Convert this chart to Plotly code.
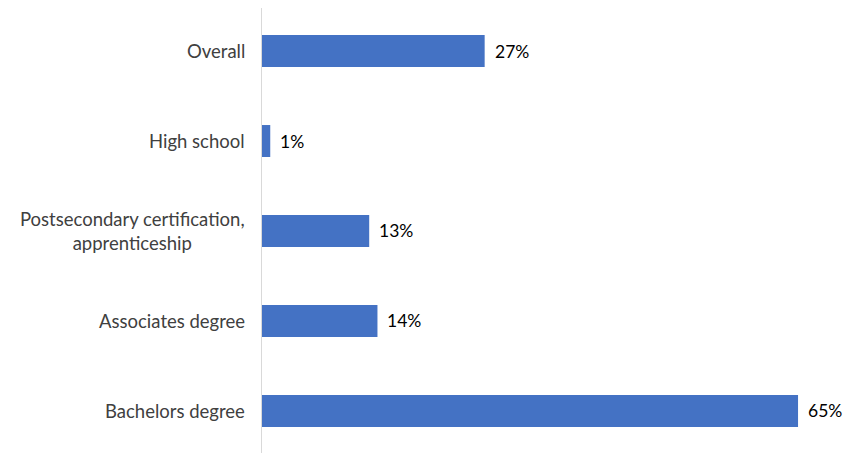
import plotly.graph_objects as go

categories = ["Overall", "High school", "Postsecondary certification,<br>apprenticeship",
              "Associates degree", "Bachelors degree"]
values = [27, 1, 13, 14, 65]
value_labels = ["27%", "1%", "13%", "14%", "65%"]

FONT = "Lato, 'Liberation Sans', sans-serif"
idx = list(range(len(categories)))

fig = go.Figure(go.Bar(
    x=values, y=idx, orientation="h",
    marker=dict(color="#4472C4", line=dict(width=0)),
    width=0.355,
    hoverinfo="skip",
))

for i, v, t in zip(idx, values, value_labels):
    fig.add_annotation(x=v, xref="x", y=i, yref="y", text=t,
                       xanchor="left", yanchor="middle",
                       xshift=8, showarrow=False,
                       font=dict(family=FONT, size=17.5, color="#000000"))

for i, c in zip(idx, categories):
    fig.add_annotation(x=0, xref="paper", y=i, yref="y", text=c,
                       xanchor="right", yanchor="middle", align="center",
                       xshift=-15, showarrow=False,
                       font=dict(family=FONT, size=18.5, color="#404040"))

fig.update_layout(
    width=856, height=453,
    margin=dict(l=254, r=14, t=0, b=0, autoexpand=False),
    paper_bgcolor="white", plot_bgcolor="white",
    showlegend=False,
    xaxis=dict(range=[0, 71.3], showgrid=False, zeroline=False,
               showticklabels=False, showline=False, automargin=False),
    yaxis=dict(range=[4.556, -0.478], showgrid=False, zeroline=False,
               showticklabels=False, showline=True, linecolor="#d9d9d9",
               linewidth=1, tickvals=idx, automargin=False),
)

fig.write_html("out.html")
